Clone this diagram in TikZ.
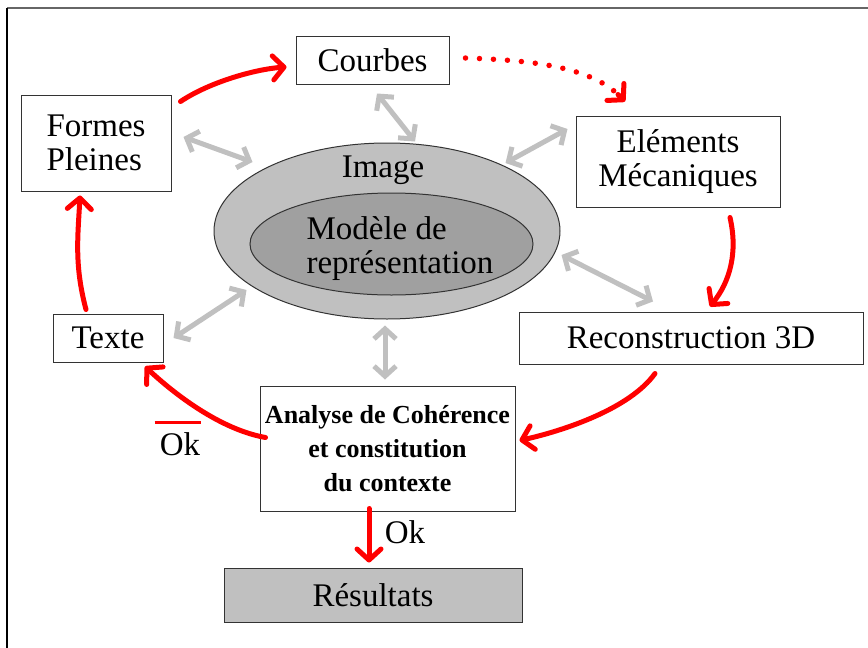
\documentclass[tikz,border=0pt]{standalone}
\usepackage{fontspec}
\setmainfont{Liberation Serif}
\usepackage{xcolor}
\definecolor{arrowgrey}{RGB}{192, 192, 192}
\definecolor{imagegrey}{RGB}{192, 192, 192}
\definecolor{modelgrey}{RGB}{160, 160, 160}
\definecolor{loopred}{RGB}{255, 0, 0}
\usepackage{tikz}
\usetikzlibrary{arrows.meta, shapes.geometric}

\begin{document}
\begin{tikzpicture}[x=1pt, y=-1pt, inner sep=0pt,
    font=\fontsize{33}{34}\selectfont,
    blockbox/.style={draw=black!80, line width=1pt, fill=white, align=center},
    greyarrow/.style={arrowgrey, line width=5pt,
        {Straight Barb[length=10pt,width=22pt]}-{Straight Barb[length=10pt,width=22pt]}},
    redarrow/.style={loopred, line width=5pt, line cap=round,
        -{Straight Barb[length=11pt,width=24pt,round]}},
    dottedline/.style={loopred, line width=5.5pt, line cap=round, dash pattern=on 0pt off 14pt}]
    \useasboundingbox (0,0) rectangle (868,648);
    % frame
    \draw[black!60, line width=2pt] (7,8) -- (868,8);
    \draw[black, line width=1.5pt] (7,8) -- (7,648);

    % image and model
    \node[ellipse, draw=black!80, line width=1pt, fill=imagegrey, minimum width=346pt, minimum height=176pt] (image) at (387,231) {};
    \node[ellipse, draw=black!80, line width=1pt, fill=modelgrey, minimum width=283pt, minimum height=102pt] (modele) at (391.5,244) {};
    \node (imagelbl) at (383,170) {Image};
    \node[align=left] (modelelbl) at (400,249) {Modèle de\\représentation};

    % blocks
    \node[blockbox, minimum width=153pt, minimum height=48pt] (courbes) at (372.5,60) {Courbes};
    \node[blockbox, minimum width=150pt, minimum height=96pt, align=left] (formes) at (96,143) {Formes\\Pleines};
    \node[blockbox, minimum width=110pt, minimum height=48pt] (texte) at (108,338) {Texte};
    \node[blockbox, minimum width=204pt, minimum height=91pt] (elements) at (678,161.5) {Eléments\\Mécaniques};
    \node[blockbox, minimum width=344pt, minimum height=52pt] (recon) at (691,338) {Reconstruction 3D};
    \node[blockbox, minimum width=255pt, minimum height=125pt, font=\bfseries\fontsize{26}{34}\selectfont] (analyse) at (387.5,448.5) {Analyse de Cohérence\\et constitution\\du contexte};
    \node[blockbox, fill=imagegrey, minimum width=298pt, minimum height=54pt] (resultats) at (373,595) {Résultats};

    % grey links to the image
    \draw[greyarrow] ([xshift=4.5pt,yshift=-9pt]courbes.south) -- ([xshift=28pt,yshift=1pt]image.north);
    \draw[greyarrow] ([xshift=12pt,yshift=6pt]formes.east) -- ([xshift=39pt,yshift=69pt]image.west);
    \draw[greyarrow] ([xshift=-8pt,yshift=32.5pt]elements.west) -- ([xshift=-55pt,yshift=68pt]image.east);
    \draw[greyarrow] ([xshift=1pt,yshift=-24pt]image.east) -- ([xshift=-38pt,yshift=10pt]recon.north);
    \draw[greyarrow] ([xshift=10pt]texte.east) -- ([xshift=33pt,yshift=-59pt]image.west);
    \draw[greyarrow] ([xshift=-2pt,yshift=-6pt]image.south) -- ([xshift=-2.5pt,yshift=6pt]analyse.north);

    % red loop
    \draw[redarrow] ([xshift=9pt,yshift=-7pt]formes.north east) .. controls +(30,-20) and +(-30,2) .. ([xshift=-9pt,yshift=-7pt]courbes.west);
    \draw[dottedline] ([xshift=16pt,yshift=2pt]courbes.east) .. controls +(60,2) and +(-30,-30) .. ([xshift=-59pt,yshift=20pt]elements.north);
    \draw[redarrow] ([xshift=-60pt,yshift=21pt]elements.north) -- ([xshift=-53pt,yshift=14pt]elements.north);
    \draw[redarrow] ([xshift=52pt,yshift=-10pt]elements.south) .. controls +(8,35) and +(20,-25) .. ([xshift=19pt,yshift=5pt]recon.north);
    \draw[redarrow] ([xshift=-36pt,yshift=-9pt]recon.south) .. controls +(-25,35) and +(45,-10) .. ([xshift=4pt,yshift=8pt]analyse.east);
    \draw[redarrow] ([xshift=6pt,yshift=11pt]analyse.west) .. controls +(-45,-8) and +(30,28) .. ([xshift=37pt,yshift=-4pt]texte.south);
    \draw[redarrow] ([xshift=-22pt,yshift=4pt]texte.north) .. controls +(-12,-45) and +(-2,40) .. ([xshift=-16pt,yshift=-4pt]formes.south);
    \draw[redarrow] ([xshift=-18.5pt,yshift=3pt]analyse.south) -- ([xshift=-4pt,yshift=5pt]resultats.north);

    % outcomes
    \node (okyes) at (405,532) {Ok};
    \node (okno) at (180,444) {Ok};
    \draw[loopred, line width=3pt] ([xshift=-5pt,yshift=10pt]okno.north west) -- ([xshift=1pt,yshift=10pt]okno.north east);
\end{tikzpicture}
\end{document}
